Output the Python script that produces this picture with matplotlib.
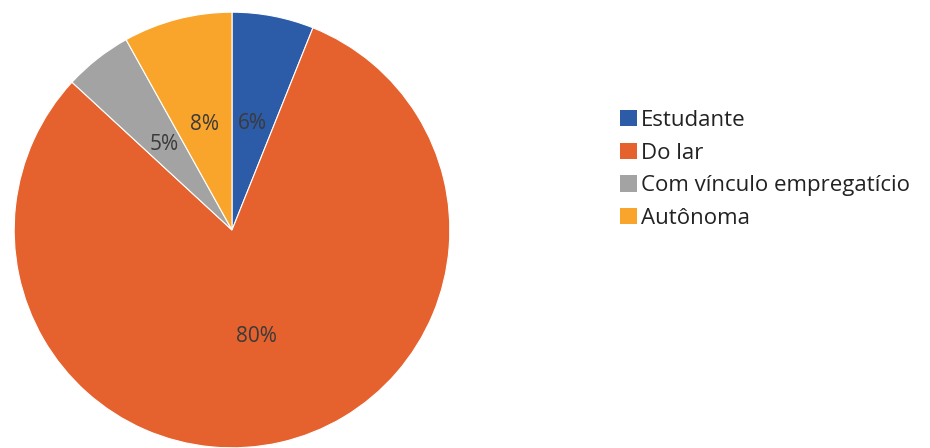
import matplotlib.pyplot as plt
from matplotlib.patches import Patch

# Occupation shares (percent)
labels = ['Estudante', 'Do lar', 'Com vínculo empregatício', 'Autônoma']
values = [6, 80, 5, 8]
colors = ['#2C5BA8', '#E5622E', '#A3A3A3', '#F9A52B']

plt.rcParams['font.family'] = ['Open Sans', 'DejaVu Sans']

fig = plt.figure(figsize=(9.3, 4.48), dpi=100)

# Pie axes: centre around (232, 230) px, radius ~220 px
ax = fig.add_axes([12 / 930, -2 / 448, 440 / 930, 440 / 448])
wedges, texts, autotexts = ax.pie(values, colors=colors, startangle=90,
                                  counterclock=False, radius=1,
                                  autopct=lambda p: '%d%%' % round(p * sum(values) / 100),
                                  pctdistance=0.5,
                                  wedgeprops=dict(edgecolor='white', linewidth=0.8))
for t in autotexts:
    t.set_fontsize(15)
    t.set_color('#3a3a3a')
ax.set_xlim(-1.01, 1.01)
ax.set_ylim(-1.01, 1.01)
ax.axis('off')

# Legend on the right
handles = [Patch(facecolor=c, edgecolor='none') for c in colors]
fig.legend(handles, labels, loc='upper left', bbox_to_anchor=(620 / 930, 1 - 110 / 448),
           frameon=False, fontsize=16, handlelength=0.75, handleheight=0.75,
           handletextpad=0.2, labelspacing=0.52, borderaxespad=0, borderpad=0,
           labelcolor='#222222')

fig.savefig('out.png', dpi=100, facecolor='white')
